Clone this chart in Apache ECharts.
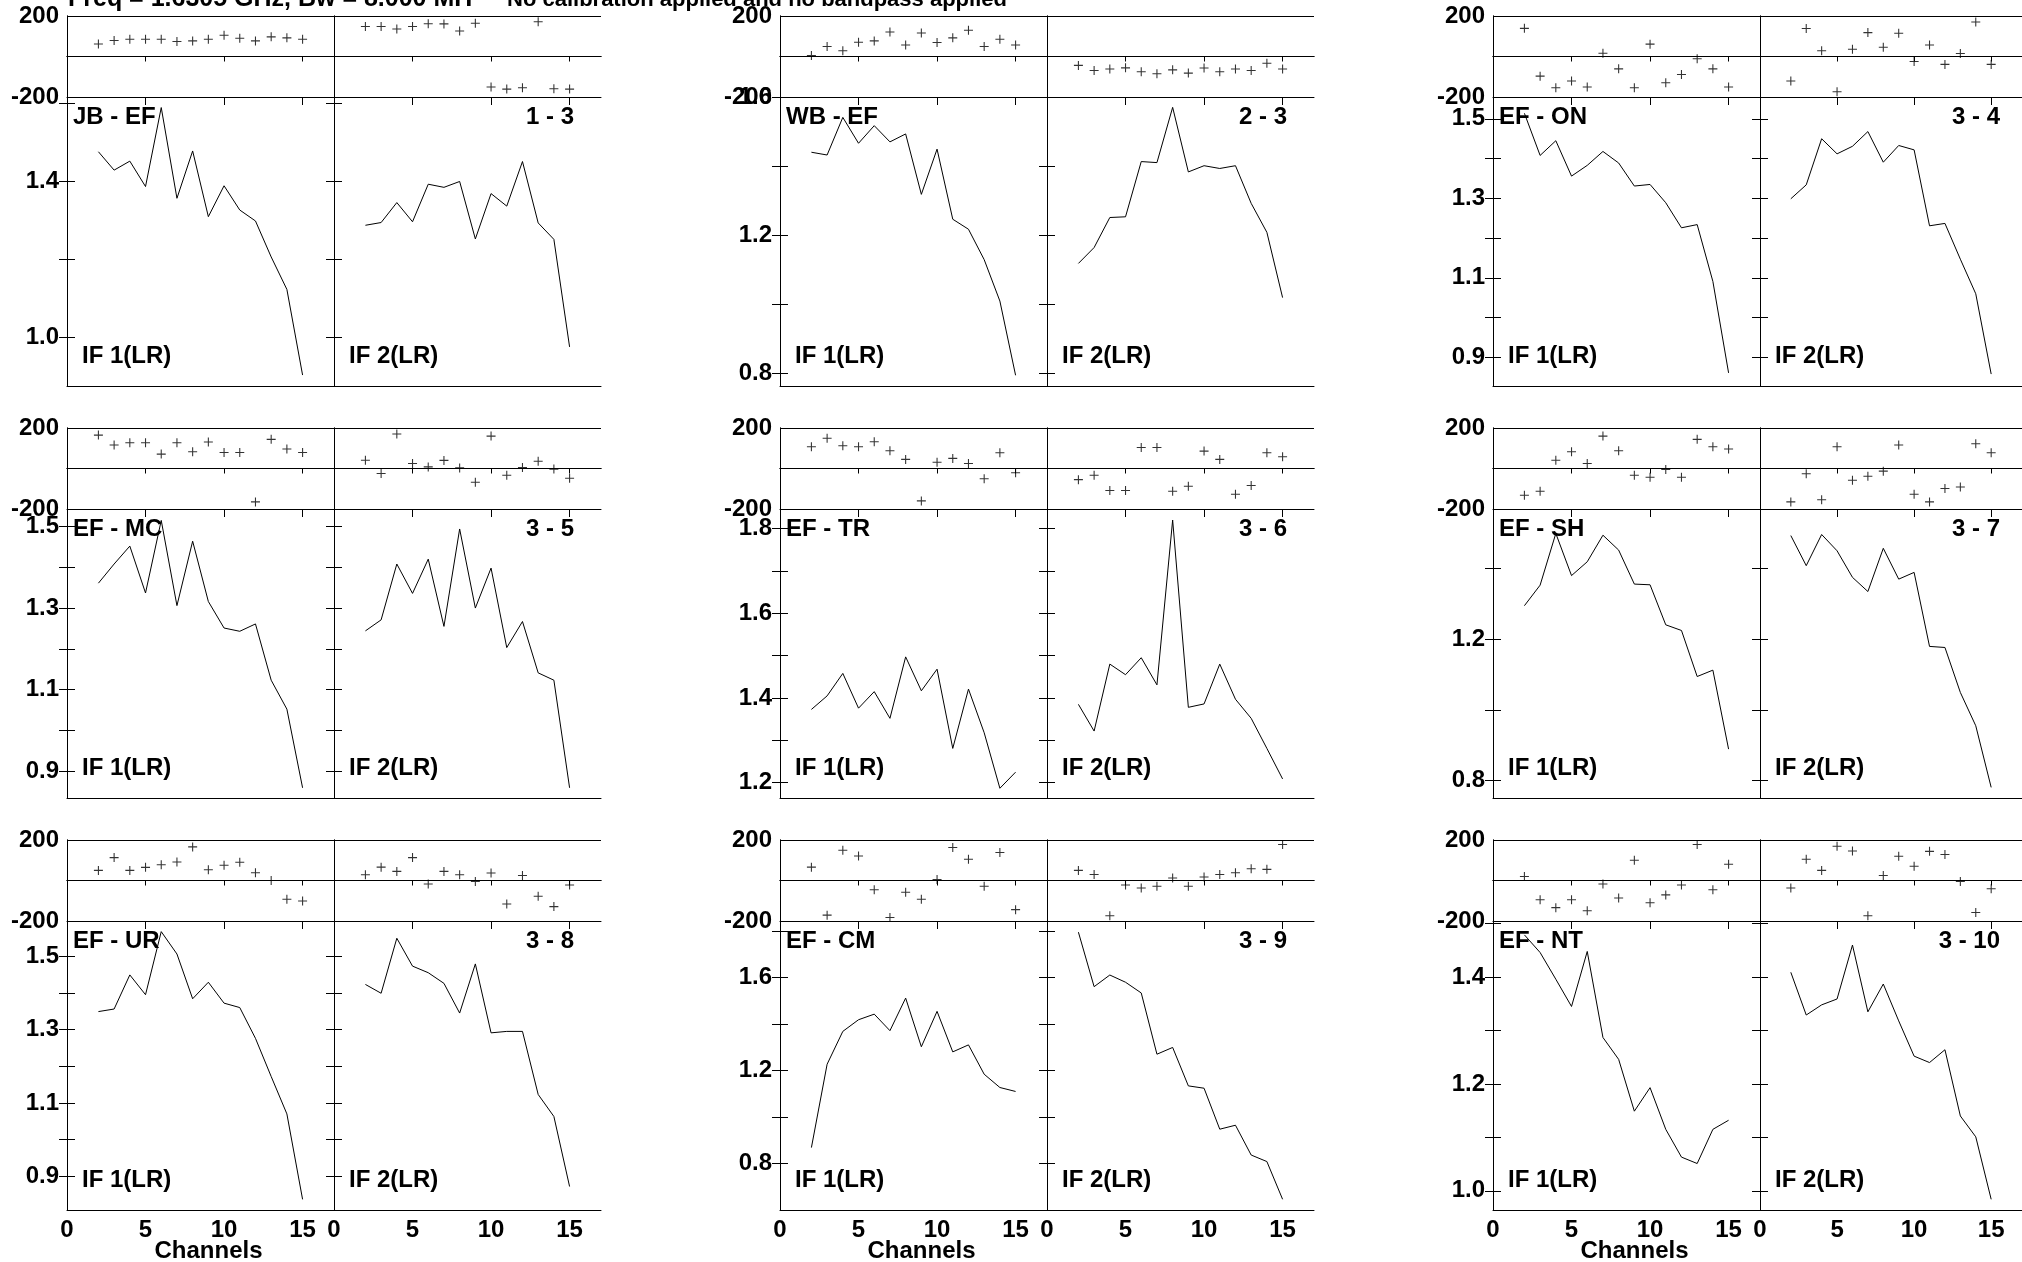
<!DOCTYPE html>
<html><head><meta charset="utf-8">
<script src="https://cdn.jsdelivr.net/npm/echarts@6/dist/echarts.min.js"></script>
<style>html,body{margin:0;padding:0;background:#fff;overflow:hidden}#c{width:2022px;height:1262px}</style>
</head><body><div id="c"></div>
<script>
// ---------- data ----------
const CHANNELS = [2,3,4,5,6,7,8,9,10,11,12,13,14,15];
const X_TICKS = [0,5,10,15];
const X_RANGE = [0,17];
const PHASE_RANGE = [-200,200];
const BASELINES = ['JB - EF','WB - EF','EF - ON','EF - MC','EF - TR','EF - SH','EF - UR','EF - CM','EF - NT'];
const PAIRS = ['1 - 3','2 - 3','3 - 4','3 - 5','3 - 6','3 - 7','3 - 8','3 - 9','3 - 10'];
const IF_LABELS = ['IF 1(LR)','IF 2(LR)'];
const TITLE_1 = 'Freq = 1.6305 GHz, Bw = 8.000 MH';
const TITLE_2 = 'No calibration applied and no bandpass applied';
const X_NAME = 'Channels';

// amplitude axis ranges / ticks / labels per baseline
const AMP_MIN = [0.876, 0.764, 0.828, 0.834, 1.164, 0.751, 0.808, 0.601, 0.964];
const AMP_MAX = [1.615, 1.601, 1.555, 1.543, 1.846, 1.567, 1.596, 1.842, 1.505];
const AMP_TICKS = [
  [1.0,1.2,1.4,1.6],
  [0.8,1.0,1.2,1.4,1.6],
  [0.9,1.0,1.1,1.2,1.3,1.4,1.5],
  [0.9,1.0,1.1,1.2,1.3,1.4,1.5],
  [1.2,1.3,1.4,1.5,1.6,1.7,1.8],
  [0.8,1.0,1.2,1.4],
  [0.9,1.0,1.1,1.2,1.3,1.4,1.5],
  [0.8,1.0,1.2,1.4,1.6,1.8],
  [1.0,1.1,1.2,1.3,1.4,1.5]
];
const AMP_LABELS = [
  [1.0,1.4],
  [0.8,1.2,1.6],
  [0.9,1.1,1.3,1.5],
  [0.9,1.1,1.3,1.5],
  [1.2,1.4,1.6,1.8],
  [0.8,1.2],
  [0.9,1.1,1.3,1.5],
  [0.8,1.2,1.6],
  [1.0,1.2,1.4]
];

// phases (degrees)
const PH_JB_EF_1 = [62,79,85,85,85,74,77,85,105,90,77,97,92,85];
const PH_JB_EF_2 = [148,148,136,148,162,161,126,164,-151,-161,-154,172,-159,-161];
const PH_WB_EF_1 = [5,49,28,70,77,121,57,116,69,92,130,49,85,57];
const PH_WB_EF_2 = [-44,-69,-62,-56,-75,-85,-66,-82,-57,-75,-62,-69,-33,-62];
const PH_EF_ON_1 = [139,-97,-154,-121,-151,16,-61,-154,61,-130,-89,-11,-61,-151];
const PH_EF_ON_2 = [-121,138,28,-174,36,118,46,115,-25,57,-39,15,170,-39];
const PH_EF_MC_1 = [165,116,127,127,71,127,83,131,79,79,-165,144,96,79];
const PH_EF_MC_2 = [41,-25,170,25,8,40,3,-68,160,-33,5,36,-3,-48];
const PH_EF_TR_1 = [107,149,112,107,132,88,45,-160,31,50,25,-51,78,-21];
const PH_EF_TR_2 = [-55,-33,-109,-109,104,104,-112,-88,86,45,-127,-84,78,58];
const PH_EF_SH_1 = [-132,-112,41,83,25,160,88,-33,-43,-5,-43,144,107,96];
const PH_EF_SH_2 = [-165,-26,-154,107,-58,-38,-13,116,-127,-165,-99,-91,122,78];
const PH_EF_UR_1 = [50,113,50,65,78,91,166,53,75,90,38,0,-93,-101];
const PH_EF_UR_2 = [28,66,45,113,-17,45,28,-5,37,-116,25,-78,-129,-22];
const PH_EF_CM_1 = [66,-171,149,121,-46,-183,-58,-93,5,163,105,-28,138,-144];
const PH_EF_CM_2 = [50,30,-174,-22,-37,-28,12,-28,17,30,38,58,55,178];
const PH_EF_NT_1 = [20,-95,-134,-95,-149,-17,-86,100,-110,-71,-22,178,-46,80];
const PH_EF_NT_2 = [-37,105,50,169,146,-174,25,120,70,144,128,-5,-158,-41];

// amplitudes
const AMP_JB_EF_1 = [1.475,1.428,1.451,1.386,1.588,1.356,1.477,1.309,1.388,1.326,1.298,1.206,1.123,0.904];
const AMP_JB_EF_2 = [1.287,1.294,1.345,1.296,1.392,1.384,1.399,1.252,1.368,1.336,1.450,1.293,1.251,0.976];
const AMP_WB_EF_1 = [1.441,1.433,1.542,1.467,1.518,1.471,1.494,1.319,1.450,1.247,1.218,1.130,1.010,0.795];
const AMP_WB_EF_2 = [1.119,1.165,1.252,1.254,1.414,1.411,1.571,1.384,1.402,1.394,1.402,1.293,1.209,1.020];
const AMP_EF_ON_1 = [1.514,1.408,1.445,1.356,1.383,1.418,1.389,1.331,1.335,1.289,1.226,1.234,1.091,0.861];
const AMP_EF_ON_2 = [1.299,1.334,1.450,1.412,1.431,1.468,1.391,1.433,1.422,1.231,1.237,1.147,1.060,0.858];
const AMP_EF_MC_1 = [1.361,1.408,1.452,1.337,1.515,1.306,1.464,1.316,1.251,1.243,1.261,1.123,1.052,0.859];
const AMP_EF_MC_2 = [1.244,1.271,1.408,1.336,1.420,1.255,1.494,1.300,1.398,1.203,1.267,1.141,1.123,0.859];
const AMP_EF_TR_1 = [1.373,1.405,1.458,1.376,1.415,1.352,1.497,1.417,1.468,1.281,1.421,1.318,1.187,1.225];
const AMP_EF_TR_2 = [1.385,1.322,1.480,1.455,1.495,1.431,1.820,1.378,1.386,1.480,1.397,1.352,1.281,1.209];
const AMP_EF_SH_1 = [1.294,1.352,1.498,1.379,1.418,1.493,1.451,1.355,1.353,1.240,1.224,1.094,1.112,0.889];
const AMP_EF_SH_2 = [1.492,1.407,1.495,1.449,1.374,1.334,1.456,1.369,1.388,1.179,1.176,1.049,0.955,0.781];
const AMP_EF_UR_1 = [1.349,1.356,1.449,1.395,1.567,1.506,1.384,1.429,1.372,1.360,1.276,1.172,1.070,0.837];
const AMP_EF_UR_2 = [1.423,1.399,1.549,1.473,1.455,1.426,1.345,1.479,1.291,1.295,1.295,1.123,1.063,0.872];
const AMP_EF_CM_1 = [0.869,1.227,1.368,1.418,1.442,1.371,1.511,1.302,1.454,1.280,1.310,1.184,1.127,1.110];
const AMP_EF_CM_2 = [1.794,1.560,1.610,1.579,1.533,1.270,1.299,1.134,1.124,0.948,0.965,0.837,0.809,0.647];
const AMP_EF_NT_1 = [1.479,1.446,1.396,1.345,1.448,1.287,1.246,1.149,1.193,1.115,1.063,1.051,1.115,1.132];
const AMP_EF_NT_2 = [1.409,1.329,1.348,1.359,1.460,1.335,1.387,1.318,1.252,1.240,1.264,1.140,1.101,0.984];

const PHASE = [[PH_JB_EF_1,PH_JB_EF_2],[PH_WB_EF_1,PH_WB_EF_2],[PH_EF_ON_1,PH_EF_ON_2],
  [PH_EF_MC_1,PH_EF_MC_2],[PH_EF_TR_1,PH_EF_TR_2],[PH_EF_SH_1,PH_EF_SH_2],
  [PH_EF_UR_1,PH_EF_UR_2],[PH_EF_CM_1,PH_EF_CM_2],[PH_EF_NT_1,PH_EF_NT_2]];
const AMP = [[AMP_JB_EF_1,AMP_JB_EF_2],[AMP_WB_EF_1,AMP_WB_EF_2],[AMP_EF_ON_1,AMP_EF_ON_2],
  [AMP_EF_MC_1,AMP_EF_MC_2],[AMP_EF_TR_1,AMP_EF_TR_2],[AMP_EF_SH_1,AMP_EF_SH_2],
  [AMP_EF_UR_1,AMP_EF_UR_2],[AMP_EF_CM_1,AMP_EF_CM_2],[AMP_EF_NT_1,AMP_EF_NT_2]];

// ---------- layout ----------
const FONT = '"Liberation Sans", Arial, Helvetica, sans-serif';
const FONT_CSS = 'bold 24px ' + FONT;
const COL_LEFT = [67, 780, 1493];
const PANEL_W = 267;
const ROW_TOP = [16, 428, 840];
const PH_H = 81, AMP_H = 289;
const PLUS = 'path://M0,4.4L10,4.4L10,5.6L0,5.6Z M4.4,0L5.6,0L5.6,10L4.4,10Z';

const black = {color:'#000', width:1};
const axLine = {show:true, lineStyle:black};
const lbl = (show, extra) => Object.assign({show, color:'#000', fontSize:24, fontWeight:'bold', fontFamily:FONT, margin:8}, extra||{});

const grid=[], xAxis=[], yAxis=[], series=[], graphic=[];
function txt(text, x, y, align, font){
  graphic.push({type:'text', x, y, z:100, silent:true,
    style:{text, fill:'#000', font:font||FONT_CSS, textAlign:align||'left', textVerticalAlign:'middle', verticalAlign:'middle'}});
}

for (let b=0;b<9;b++){
  const r = Math.floor(b/3), c = b%3;
  for (let k=0;k<2;k++){
    const left = COL_LEFT[c] + k*PANEL_W;
    // phase panel
    let g = grid.length;
    grid.push({left, top:ROW_TOP[r], width:PANEL_W, height:PH_H, show:false});
    let xi = xAxis.length;
    xAxis.push({type:'value', gridIndex:g, position:'top', min:X_RANGE[0], max:X_RANGE[1], axisLine:axLine,
      axisTick:{show:true, inside:true, length:5, customValues:X_TICKS, lineStyle:black}, axisLabel:{show:false}, splitLine:{show:false}});
    xAxis.push({type:'value', gridIndex:g, position:'bottom', min:X_RANGE[0], max:X_RANGE[1], axisLine:axLine,
      axisTick:{show:false}, axisLabel:{show:false}, splitLine:{show:false}});
    let yi = yAxis.length;
    yAxis.push({type:'value', gridIndex:g, position:'left', min:PHASE_RANGE[0], max:PHASE_RANGE[1], interval:200, axisLine:axLine,
      axisTick:{show:false}, axisLabel:lbl(k===0, {formatter: v => v===0 ? '' : String(v)}),
      splitLine:{show:true, lineStyle:black}});
    yAxis.push({type:'value', gridIndex:g, position:'right', min:PHASE_RANGE[0], max:PHASE_RANGE[1], interval:200, axisLine:axLine,
      axisTick:{show:false}, axisLabel:{show:false}, splitLine:{show:false}});
    series.push({type:'scatter', xAxisIndex:xi, yAxisIndex:yi, silent:true,
      data: CHANNELS.map((ch,i)=>[ch, PHASE[b][k][i]]),
      symbol:PLUS, symbolSize:9, itemStyle:{color:'#000'}});

    // amplitude panel
    const aTop = ROW_TOP[r]+PH_H;
    g = grid.length;
    grid.push({left, top:aTop, width:PANEL_W, height:AMP_H, show:false});
    xi = xAxis.length;
    xAxis.push({type:'value', gridIndex:g, position:'top', min:X_RANGE[0], max:X_RANGE[1], axisLine:axLine,
      axisTick:{show:true, inside:true, length:8, customValues:X_TICKS, lineStyle:black}, axisLabel:{show:false}, splitLine:{show:false}});
    xAxis.push({type:'value', gridIndex:g, position:'bottom', min:X_RANGE[0], max:X_RANGE[1], axisLine:axLine,
      axisTick:{show:false}, axisLabel:lbl(r===2, {customValues:X_TICKS, margin:8}), splitLine:{show:false}});
    yi = yAxis.length;
    yAxis.push({type:'value', gridIndex:g, position:'left', min:AMP_MIN[b], max:AMP_MAX[b], axisLine:axLine,
      axisTick:{show:true, inside:true, length:8, customValues:AMP_TICKS[b], lineStyle:black},
      axisLabel:lbl(k===0, {customValues:AMP_LABELS[b], formatter: v => Number(v).toFixed(1)}), splitLine:{show:false}});
    yAxis.push({type:'value', gridIndex:g, position:'right', min:AMP_MIN[b], max:AMP_MAX[b], axisLine:axLine,
      axisTick:{show:true, inside:true, length:8, customValues:AMP_TICKS[b], lineStyle:black},
      axisLabel:{show:false}, splitLine:{show:false}});
    series.push({type:'line', xAxisIndex:xi, yAxisIndex:yi, silent:true,
      data: CHANNELS.map((ch,i)=>[ch, AMP[b][k][i]]),
      symbol:'none', lineStyle:{color:'#000', width:1}});

    // annotations
    txt(IF_LABELS[k], left+15, aTop+AMP_H-30, 'left');
    if (k===0) txt(BASELINES[b], left+6, aTop+20, 'left');
    else txt(PAIRS[b], left+PANEL_W-27, aTop+20, 'right');
    if (r===2 && k===0) txt(X_NAME, left+PANEL_W/2+8, 1251, 'center');
  }
}
txt(TITLE_1, 68, -1, 'left', 'bold 25px ' + FONT);
txt(TITLE_2, 507, 0, 'left', 'bold 22px ' + FONT);

const chart = echarts.init(document.getElementById('c'), null, {renderer:'canvas'});
chart.setOption({animation:false, backgroundColor:'#fff', textStyle:{fontFamily:FONT},
  grid, xAxis, yAxis, series, graphic});
</script></body></html>
